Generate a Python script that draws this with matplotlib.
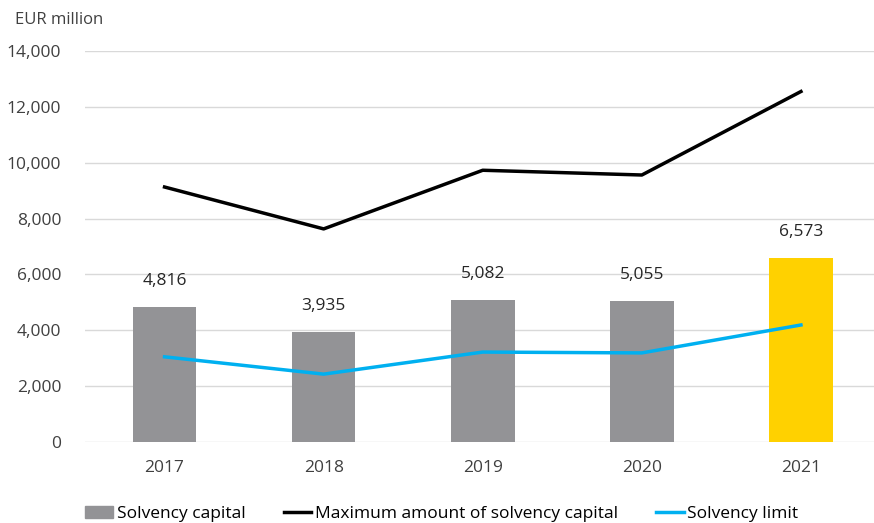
import matplotlib.pyplot as plt
from matplotlib.lines import Line2D
from matplotlib.patches import Patch

years = ['2017', '2018', '2019', '2020', '2021']
solvency_capital = [4816, 3935, 5082, 5055, 6573]
max_solvency_capital = [9130, 7630, 9730, 9560, 12550]
solvency_limit = [3050, 2430, 3220, 3190, 4190]

bar_colors = ['#939396', '#939396', '#939396', '#939396', '#FFD100']

plt.rcParams['font.family'] = ['Open Sans', 'DejaVu Sans']

fig = plt.figure(figsize=(8.74, 5.23), dpi=100)
ax = fig.add_axes([85 / 874, (523 - 442) / 523, 1 - 85 / 874, (442 - 51) / 523])

x = list(range(len(years)))
ax.bar(x, solvency_capital, width=0.4, color=bar_colors, zorder=2)
ax.plot(x, max_solvency_capital, color='black', linewidth=2.5, zorder=3)
ax.plot(x, solvency_limit, color='#00B0F0', linewidth=2.5, zorder=3)

for xi, v in zip(x, solvency_capital):
    ax.annotate(f'{v:,}', (xi, v), xytext=(0, 13), textcoords='offset points',
                ha='center', va='bottom', fontsize=12.5, color='#262626')

ax.set_ylim(0, 14000)
ax.set_xlim(-0.5, (874 - 165) / 159)
ax.set_yticks(range(0, 14001, 2000))
ax.set_yticklabels([f'{t:,}' for t in range(0, 14001, 2000)])
ax.set_xticks(x)
ax.set_xticklabels(years)
ax.grid(axis='y', color='#D9D9D9', linewidth=1, zorder=0)
ax.tick_params(axis='both', length=0, labelsize=12.5, labelcolor='#404040')
ax.tick_params(axis='y', pad=17)
ax.tick_params(axis='x', pad=13)
for s in ax.spines.values():
    s.set_visible(False)

fig.text(15 / 874, 1 - 20 / 523, 'EUR million', fontsize=12, color='#404040', va='center')

handles = [
    Patch(color='#939396'),
    Line2D([0], [0], color='black', linewidth=2.5),
    Line2D([0], [0], color='#00B0F0', linewidth=2.5),
]
labels = ['Solvency capital', 'Maximum amount of solvency capital', 'Solvency limit']
fig.legend(handles, labels, loc='center', bbox_to_anchor=(442 / 874, 1 - 514 / 523),
           ncol=3, frameon=False, fontsize=12.5, handlelength=1.6, handletextpad=0.2,
           columnspacing=2.2, labelcolor='#000000')

fig.savefig('out.png', dpi=100)
